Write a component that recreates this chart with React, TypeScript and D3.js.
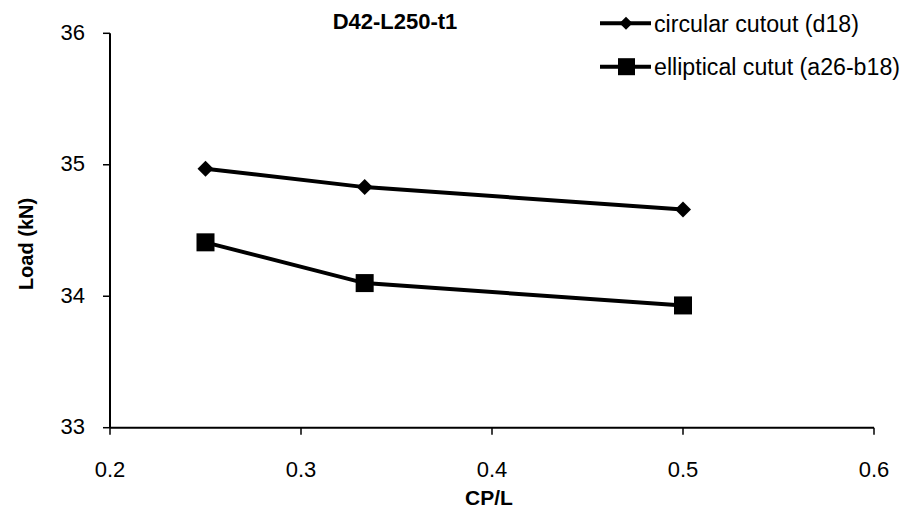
import React from "react";
import * as d3 from "d3";

const xValues = [0.25, 1 / 3, 0.5];
const circular = [34.97, 34.83, 34.66];
const elliptical = [34.41, 34.1, 33.93];
const xTicks = [0.2, 0.3, 0.4, 0.5, 0.6];
const yTicks = [33, 34, 35, 36];
const seriesNames = ["circular cutout (d18)", "elliptical cutut (a26-b18)"];
const title = "D42-L250-t1";

const W = 907;
const H = 509;
const m = { left: 110, right: 33, top: 33.3, bottom: 81.3 };
const FONT = "'Liberation Sans', Arial, sans-serif";

export default function App() {
  const x = d3.scaleLinear().domain([0.2, 0.6]).range([m.left, W - m.right]);
  const y = d3.scaleLinear().domain([33, 36]).range([H - m.bottom, m.top]);
  const line = d3
    .line<number>()
    .x((_, i) => x(xValues[i]))
    .y((d) => y(d));

  const diamond = (cx: number, cy: number, r: number) =>
    `M${cx},${cy - r}L${cx + r},${cy}L${cx},${cy + r}L${cx - r},${cy}Z`;

  const baseY = y(33);
  return (
    <svg
      width={W}
      height={H}
      style={{ position: "absolute", left: 0, top: 0, background: "#fff" }}
      fontFamily={FONT}
    >
      <rect x={0} y={0} width={W} height={H} fill="#fff" />
      {/* axes */}
      <line x1={m.left} x2={m.left} y1={y(36)} y2={baseY} stroke="#000" strokeWidth={2} />
      <line x1={m.left} x2={x(0.6)} y1={baseY} y2={baseY} stroke="#000" strokeWidth={2} />
      {yTicks.map((t) => (
        <g key={"y" + t}>
          <line x1={m.left - 7} x2={m.left} y1={y(t)} y2={y(t)} stroke="#000" strokeWidth={1.5} />
          <text x={85} y={y(t)} dy="0.3em" textAnchor="end" fontSize={22} fill="#000">
            {t}
          </text>
        </g>
      ))}
      {xTicks.map((t) => (
        <g key={"x" + t}>
          <line x1={x(t)} x2={x(t)} y1={baseY} y2={baseY + 7} stroke="#000" strokeWidth={1.5} />
          <text x={x(t)} y={baseY + 49} textAnchor="middle" fontSize={22} fill="#000">
            {t}
          </text>
        </g>
      ))}
      {/* axis titles */}
      <text x={489} y={505} textAnchor="middle" fontSize={21} fontWeight="bold">
        CP/L
      </text>
      <text
        transform={`translate(33,244) rotate(-90)`}
        textAnchor="middle"
        fontSize={20}
        fontWeight="bold"
      >
        Load (kN)
      </text>
      <text x={395} y={29} textAnchor="middle" fontSize={22} fontWeight="bold">
        {title}
      </text>
      {/* series */}
      <path d={line(circular) || ""} fill="none" stroke="#000" strokeWidth={4} />
      <path d={line(elliptical) || ""} fill="none" stroke="#000" strokeWidth={4} />
      {circular.map((v, i) => (
        <path key={"c" + i} d={diamond(x(xValues[i]), y(v), 8)} fill="#000" />
      ))}
      {elliptical.map((v, i) => (
        <rect key={"e" + i} x={x(xValues[i]) - 9} y={y(v) - 9} width={18} height={18} fill="#000" />
      ))}
      {/* legend */}
      <g>
        <line x1={600} x2={651} y1={23.3} y2={23.3} stroke="#000" strokeWidth={4} />
        <path d={diamond(626, 23.3, 6.5)} fill="#000" />
        <text x={654} y={31.5} fontSize={23} textLength={205} lengthAdjust="spacingAndGlyphs">
          {seriesNames[0]}
        </text>
        <line x1={600} x2={651} y1={66.7} y2={66.7} stroke="#000" strokeWidth={4} />
        <rect x={618} y={58.2} width={17} height={17} fill="#000" />
        <text x={654} y={75} fontSize={23} textLength={246} lengthAdjust="spacingAndGlyphs">
          {seriesNames[1]}
        </text>
      </g>
    </svg>
  );
}
